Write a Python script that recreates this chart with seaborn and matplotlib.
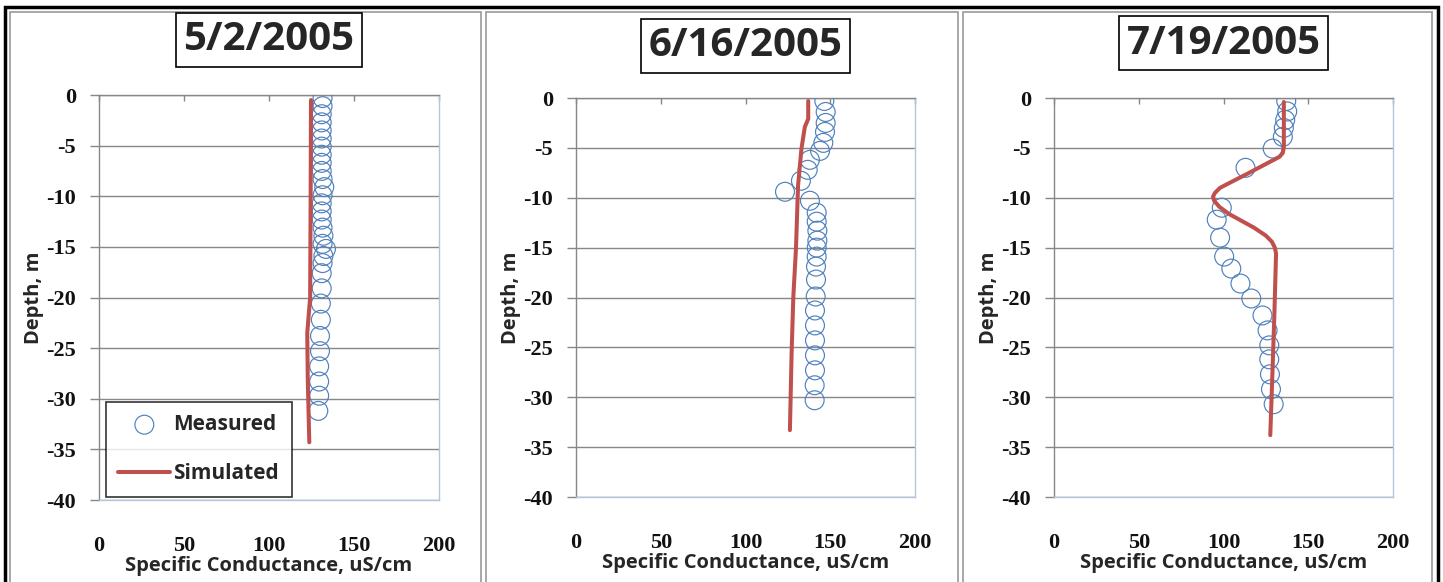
import matplotlib
matplotlib.use("Agg")
import matplotlib.pyplot as plt
from matplotlib.patches import Rectangle
import seaborn as sns
import pandas as pd

# ---------------- data ----------------
titles = ["5/2/2005", "6/16/2005", "7/19/2005"]

depth1_meas = [-0.3, -1.1, -1.9, -2.7, -3.5, -4.3, -5.1, -5.9, -6.7, -7.5, -8.3, -9.1,
               -9.9, -10.7, -11.5, -12.3, -13.1, -13.9, -14.7, -15.2, -15.9, -16.6,
               -17.6, -19.1, -20.6, -22.2, -23.8, -25.3, -26.8, -28.3, -29.7, -31.2]
sc1_meas = [131.5, 131.5, 131, 131, 131, 131, 131, 131, 131, 131, 131.5, 132.5,
            131.5, 131, 131, 131, 131.5, 132, 131.5, 133.5, 132, 131.5,
            131, 131, 130.5, 130.5, 130, 130, 129.5, 129.5, 129.5, 129]
depth1_sim = [-0.5, -10, -20, -23.5, -28, -34.3]
sc1_sim = [124.7, 124.5, 124.2, 122.5, 122.8, 123.7]

depth2_meas = [-0.3, -1.4, -2.5, -3.4, -4.5, -5.3, -6.2, -7.2, -8.3, -9.4, -10.3, -11.5,
               -12.4, -13.3, -14.3, -15.0, -15.9, -16.9, -18.2, -19.9, -21.3, -22.8,
               -24.3, -25.8, -27.3, -28.8, -30.3]
sc2_meas = [146.5, 147.3, 147.3, 146.9, 145.9, 144, 138, 136.7, 132.7, 123.3, 138, 142,
            142, 142.4, 142.4, 142, 142, 141.6, 141.6, 141.4, 141, 141,
            141, 141, 141, 140.8, 140.8]
depth2_sim = [-0.3, -2.1, -2.9, -5.1, -8.8, -15, -20, -25.6, -33.3]
sc2_sim = [137, 137, 135, 133, 131, 129.8, 128.2, 127.2, 126.2]

depth3_meas = [-0.3, -1.35, -2.2, -3.0, -3.9, -5.07, -7.0, -11.0, -12.2, -14.0, -15.9,
               -17.1, -18.6, -20.1, -21.8, -23.3, -24.8, -26.2, -27.7, -29.2, -30.7]
sc3_meas = [137, 137.6, 136.4, 135.6, 135, 129, 113, 99, 96, 98, 100.4,
            104.6, 110, 116.4, 123, 126, 127, 127, 127.4, 128, 129.6]
depth3_sim = [-0.4, -4.9, -5.5, -5.9, -7.6, -9.0, -9.5, -9.9, -10.3, -10.9, -11.6,
              -13.0, -13.8, -14.4, -15.0, -15.6, -21.8, -26.9, -33.8]
sc3_sim = [135.6, 135.6, 135, 133, 114, 98, 95, 93.8, 94.5, 97.5, 103,
           118, 125, 128.5, 130.3, 131, 130, 129, 127.6]

measured = [(depth1_meas, sc1_meas), (depth2_meas, sc2_meas), (depth3_meas, sc3_meas)]
simulated = [(depth1_sim, sc1_sim), (depth2_sim, sc2_sim), (depth3_sim, sc3_sim)]

x_ticks = [0, 50, 100, 150, 200]
y_ticks = [0, -5, -10, -15, -20, -25, -30, -35, -40]

# ---------------- style ----------------
sns.set_style("white")
plt.rcParams["font.family"] = ["Open Sans", "DejaVu Sans"]

W, H = 1443, 582
fig = plt.figure(figsize=(W / 100, H / 100), dpi=100)

MEAS_COLOR = "#4F81BD"
SIM_COLOR = "#C0504D"
GRID = "#878787"
BORDER = "#b3c6e0"

# axes rectangles in pixel units: (left, right, top, bottom)
boxes = [(99, 439, 95, 500), (576, 915, 98, 497), (1054, 1393, 98, 497)]
title_y = [40, 46, 43]
frames = [(10, 481), (486, 958), (963, 1432)]

# panel frames
for (fx0, fx1) in frames:
    fig.add_artist(Rectangle((fx0 / W, -0.01), (fx1 - fx0) / W, (H - 12) / H + 0.01,
                             transform=fig.transFigure, fill=False,
                             edgecolor="#9a9a9a", lw=1.2))
# outer black border
fig.add_artist(Rectangle((5 / W, -0.02), (1438 - 5) / W, (H - 7) / H + 0.02,
                         transform=fig.transFigure, fill=False,
                         edgecolor="black", lw=2.5))

for i, (l, r, t, b) in enumerate(boxes):
    ax = fig.add_axes([l / W, (H - b) / H, (r - l) / W, (b - t) / H])
    dm, sm = measured[i]
    ds, ss = simulated[i]
    dfm = pd.DataFrame({"sc": sm, "depth": dm})
    dfs = pd.DataFrame({"sc": ss, "depth": ds})
    sns.scatterplot(data=dfm, x="sc", y="depth", ax=ax, s=185, marker="o",
                    facecolors="none", edgecolor=MEAS_COLOR, linewidth=0.85,
                    label="Measured", zorder=3)
    sns.lineplot(data=dfs, x="sc", y="depth", ax=ax, sort=False, estimator=None,
                 color=SIM_COLOR, lw=2.9, label="Simulated", zorder=4)

    ax.set_xlim(0, 200)
    ax.set_ylim(-40, 0)
    ax.set_xticks(x_ticks)
    ax.set_yticks(y_ticks)
    ax.set_xticklabels([str(v) for v in x_ticks])
    ax.set_yticklabels([str(v) for v in y_ticks])
    ax.yaxis.grid(True, color=GRID, lw=1.0)
    ax.xaxis.grid(False)
    ax.set_axisbelow(True)

    ax.tick_params(axis="x", top=True, bottom=False, labeltop=False, labelbottom=True,
                   direction="in", length=4, color=GRID, width=1.0, pad=26)
    ax.tick_params(axis="y", left=True, direction="out", length=6.5, color=GRID,
                   width=1.0, pad=10)
    for lab in ax.get_xticklabels() + ax.get_yticklabels():
        lab.set_fontfamily(["Liberation Serif", "DejaVu Serif"])
        lab.set_fontsize(16)
        lab.set_fontweight("bold")
        lab.set_color("#111111")

    for side in ["left", "top"]:
        ax.spines[side].set_color(GRID)
        ax.spines[side].set_linewidth(1.0)
    for side in ["right", "bottom"]:
        ax.spines[side].set_color(BORDER)
        ax.spines[side].set_linewidth(1.0)

    ax.set_xlabel("Specific Conductance, uS/cm", fontsize=14.5, fontweight="bold",
                  labelpad=0)
    ax.set_ylabel("Depth, m", fontsize=14.5, fontweight="bold", labelpad=2)

    fig.text(((l + r) / 2) / W, (H - title_y[i]) / H, titles[i], ha="center",
             va="center", fontsize=29, fontweight="bold",
             bbox=dict(boxstyle="square,pad=0.18", facecolor="white",
                       edgecolor="black", lw=1.2))

    if i == 0:
        leg = ax.legend(loc="lower left", bbox_to_anchor=(0.02, 0.008),
                        frameon=True, fancybox=False, edgecolor="black",
                        prop={"weight": "bold", "size": 15}, handlelength=2.5,
                        labelspacing=1.35, borderpad=0.6, handletextpad=0.15,
                        borderaxespad=0)
        leg.get_frame().set_linewidth(1.2)
    else:
        lg = ax.get_legend()
        if lg is not None:
            lg.remove()

fig.savefig("out.png", dpi=100, facecolor="white")
